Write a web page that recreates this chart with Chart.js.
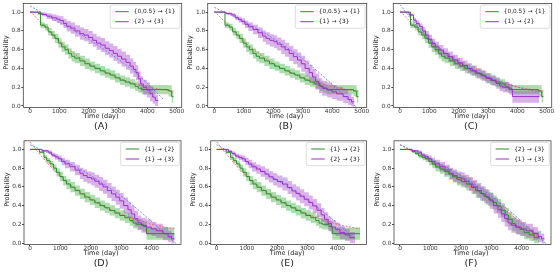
<!DOCTYPE html>
<html>
<head>
<meta charset="utf-8">
<script src="https://cdn.jsdelivr.net/npm/chart.js@4.4.0/dist/chart.umd.min.js"></script>
<style>
  body { margin: 0; background: #fff; }
  #wrap { position: relative; width: 560px; height: 274px; }
  #wrap canvas { position: absolute; left: 0; top: 0; }
</style>
</head>
<body>
<div id="wrap"></div>
<script>
// tick values
const ticksX5 = [0, 1000, 2000, 3000, 4000, 5000];
const ticksX4 = [0, 1000, 2000, 3000, 4000];
const ticksY = [0.0, 0.2, 0.4, 0.6, 0.8, 1.0];

// {0,0.5} -> {1}  (time, survival, ci half width)
const t051 = [0, 360, 510, 620, 740, 850, 970, 1080, 1190, 1310, 1420, 1530, 1700, 1870, 2040, 2210, 2390, 2560, 2730, 2900, 3070, 3240, 3410, 3580, 3690, 3810, 4720, 4830, 4890];
const s051 = [1.0, 0.86, 0.84, 0.79, 0.755, 0.72, 0.67, 0.63, 0.60, 0.56, 0.53, 0.51, 0.48, 0.45, 0.425, 0.40, 0.375, 0.35, 0.33, 0.30, 0.275, 0.255, 0.235, 0.21, 0.19, 0.175, 0.16, 0.10, 0.10];
const ci051 = [0, .03, .035, .04, .045, .05, .05, .055, .055, .055, .055, .055, .055, .055, .05, .05, .05, .05, .05, .05, .05, .05, .05, .05, .05, .05, .06, .065, .065];

// {1} -> {3}
const t13 = [0, 400, 600, 710, 820, 930, 1040, 1150, 1310, 1480, 1640, 1750, 1880, 2020, 2130, 2270, 2400, 2540, 2680, 2820, 2950, 3080, 3220, 3330, 3440, 3550, 3660, 3830, 3990, 4150, 4370, 4540, 4650, 4750];
const s13 = [1.0, 0.985, 0.97, 0.94, 0.92, 0.90, 0.87, 0.845, 0.815, 0.78, 0.745, 0.72, 0.70, 0.685, 0.66, 0.63, 0.60, 0.56, 0.525, 0.49, 0.45, 0.40, 0.355, 0.31, 0.26, 0.215, 0.19, 0.17, 0.15, 0.13, 0.10, 0.07, 0.045, 0.045];
const ci13 = [0, .012, .018, .025, .03, .035, .04, .045, .05, .055, .06, .065, .065, .07, .07, .075, .075, .08, .08, .08, .085, .085, .085, .085, .085, .08, .08, .08, .075, .075, .07, .06, .05, .05];

// {1} -> {2}
const t12 = [0, 310, 460, 550, 660, 770, 870, 980, 1090, 1200, 1330, 1480, 1640, 1800, 1970, 2130, 2300, 2460, 2620, 2790, 2950, 3120, 3280, 3390, 3500, 3720, 3830, 4750];
const s12 = [1.0, 0.97, 0.915, 0.88, 0.845, 0.80, 0.755, 0.71, 0.667, 0.63, 0.596, 0.56, 0.525, 0.49, 0.46, 0.43, 0.40, 0.376, 0.348, 0.32, 0.294, 0.27, 0.24, 0.213, 0.20, 0.177, 0.10, 0.10];
const ci12 = [0, .015, .025, .03, .035, .04, .045, .05, .05, .055, .055, .055, .055, .055, .055, .055, .055, .055, .055, .055, .055, .055, .055, .055, .055, .055, .065, .065];

// {2} -> {3}, panel A
const t23a = [0, 280, 400, 570, 740, 910, 1020, 1140, 1250, 1390, 1530, 1700, 1840, 1990, 2140, 2270, 2410, 2560, 2700, 2840, 2980, 3120, 3270, 3410, 3520, 3610, 3690, 3770, 3860, 3980, 4090, 4180, 4270, 4370];
const s23a = [1.0, 0.985, 0.975, 0.957, 0.94, 0.925, 0.91, 0.88, 0.85, 0.83, 0.80, 0.77, 0.755, 0.73, 0.70, 0.67, 0.65, 0.615, 0.59, 0.56, 0.53, 0.50, 0.465, 0.425, 0.39, 0.355, 0.29, 0.235, 0.20, 0.17, 0.13, 0.095, 0.06, 0.06];
const ci23a = [0, .015, .02, .03, .035, .04, .045, .05, .055, .06, .06, .065, .065, .07, .07, .07, .075, .075, .075, .08, .08, .08, .08, .08, .08, .08, .08, .08, .08, .08, .08, .07, .06, .06];

// {2} -> {3}, panels E and F
const t23 = [0, 390, 500, 610, 730, 840, 950, 1060, 1170, 1310, 1450, 1600, 1730, 1870, 2010, 2180, 2350, 2490, 2630, 2760, 2900, 3050, 3180, 3320, 3460, 3570, 3690, 3800, 3940, 4080, 4250, 4410, 4580];
const s23 = [1.0, 0.98, 0.957, 0.93, 0.914, 0.90, 0.87, 0.843, 0.814, 0.79, 0.764, 0.736, 0.707, 0.68, 0.657, 0.63, 0.593, 0.557, 0.53, 0.50, 0.468, 0.432, 0.396, 0.35, 0.30, 0.254, 0.207, 0.17, 0.146, 0.11, 0.086, 0.057, 0.057];
const ci23 = [0, .015, .02, .025, .03, .035, .04, .045, .05, .05, .055, .06, .06, .065, .065, .07, .07, .07, .075, .075, .075, .075, .075, .075, .075, .075, .075, .075, .07, .07, .065, .06, .06];

// fitted curves (dashed)
const fitT051 = [0, 500, 1000, 1500, 2000, 2500, 3000, 3500, 4000, 4500, 4890];
const fitS051 = [1.01, 0.85, 0.69, 0.56, 0.45, 0.37, 0.30, 0.245, 0.205, 0.175, 0.16];
const fitT13 = [0, 1000, 2000, 3000, 3500, 4000, 4500, 4850];
const fitS13 = [1.05, 0.90, 0.72, 0.50, 0.37, 0.23, 0.08, -0.02];
const fitT12 = [0, 500, 1000, 1500, 2000, 2500, 3000, 3500, 4000, 4500, 4750];
const fitS12 = [1.08, 0.88, 0.71, 0.58, 0.47, 0.38, 0.31, 0.25, 0.20, 0.165, 0.15];
const fitT23a = [0, 1000, 2000, 3000, 3500, 4000, 4550];
const fitS23a = [1.065, 0.89, 0.71, 0.50, 0.38, 0.24, 0.07];
const fitT23 = [0, 1000, 2000, 3000, 3500, 4000, 4600];
const fitS23 = [1.05, 0.87, 0.67, 0.46, 0.34, 0.21, 0.04];

const GREEN = '#2c8c2c', GREEN_BAND = 'rgba(50,170,50,0.4)';
const PURPLE = '#9a30c8', PURPLE_BAND = 'rgba(160,60,200,0.4)';
const RED_FIT = 'rgba(235,90,90,0.8)', BLUE_FIT = 'rgba(100,110,240,0.8)';
const FONT = 'DejaVu Sans';

const c051 = [t051, s051, ci051], c13 = [t13, s13, ci13], c12 = [t12, s12, ci12];
const c23a = [t23a, s23a, ci23a], c23 = [t23, s23, ci23];
const f051 = [fitT051, fitS051], f13 = [fitT13, fitS13], f12 = [fitT12, fitS12];
const f23a = [fitT23a, fitS23a], f23 = [fitT23, fitS23];

// panel layout (page pixels) and content
const panels = [
  { tag: '(A)', L: 23.3, R: 181.7, T: 3.5, B: 107.5, xMin: -228, xMax: 5170, xt: ticksX5,
    green: c051, purple: c23a, red: f051, blue: f23a, labels: ['{0,0.5} \u2192 {1}', '{2} \u2192 {3}'] },
  { tag: '(B)', L: 207.7, R: 366.7, T: 3.5, B: 107.5, xMin: -226, xMax: 5169, xt: ticksX5,
    green: c051, purple: c13, red: f051, blue: f13, labels: ['{0,0.5} \u2192 {1}', '{1} \u2192 {3}'] },
  { tag: '(C)', L: 393.3, R: 551.7, T: 3.5, B: 107.5, xMin: -228, xMax: 5170, xt: ticksX5,
    green: c051, purple: c12, red: f051, blue: f12, labels: ['{0,0.5} \u2192 {1}', '{1} \u2192 {2}'] },
  { tag: '(D)', L: 24, R: 181, T: 140.8, B: 244.5, xMin: -197, xMax: 4964, xt: ticksX4,
    green: c12, purple: c13, red: f12, blue: f13, labels: ['{1} \u2192 {2}', '{1} \u2192 {3}'] },
  { tag: '(E)', L: 210.7, R: 366.6, T: 140.8, B: 244.5, xMin: -198, xMax: 4965, xt: ticksX4,
    green: c12, purple: c23, red: f12, blue: f23, labels: ['{1} \u2192 {2}', '{2} \u2192 {3}'] },
  { tag: '(F)', L: 394, R: 551, T: 140.8, B: 244.5, xMin: -197, xMax: 4964, xt: ticksX4,
    green: c23, purple: c13, red: f23, blue: f13, labels: ['{2} \u2192 {3}', '{1} \u2192 {3}'] }
];

function pts(t, s) {
  return t.map((x, i) => ({ x: x, y: s[i] }));
}
function upper(c) {
  return c[0].map((x, i) => ({ x: x, y: Math.min(1, c[1][i] + c[2][i]) }));
}
function lower(c) {
  return c[0].map((x, i) => ({ x: x, y: c[1][i] - c[2][i] }));
}

function buildDatasets(p) {
  const base = { pointRadius: 0, borderWidth: 1 };
  const band = { stepped: 'before', borderColor: 'transparent', borderWidth: 0, pointRadius: 0 };
  return [
    Object.assign({ data: pts(p.purple[0], p.purple[1]), stepped: 'before', borderColor: PURPLE, fill: false, order: 0 }, base),
    Object.assign({ data: pts(p.green[0], p.green[1]), stepped: 'before', borderColor: GREEN, fill: false, order: 1 }, base),
    Object.assign({ data: pts(p.red[0], p.red[1]), borderColor: RED_FIT, borderDash: [2, 1.5], cubicInterpolationMode: 'monotone', fill: false, order: 2 }, base),
    Object.assign({ data: pts(p.blue[0], p.blue[1]), borderColor: BLUE_FIT, borderDash: [2, 1.5], cubicInterpolationMode: 'monotone', fill: false, order: 2 }, base),
    Object.assign({ data: upper(p.purple), backgroundColor: PURPLE_BAND, fill: '+1', order: 3 }, band),
    Object.assign({ data: lower(p.purple), fill: false, order: 3 }, band),
    Object.assign({ data: upper(p.green), backgroundColor: GREEN_BAND, fill: '+1', order: 4 }, band),
    Object.assign({ data: lower(p.green), fill: false, order: 4 }, band)
  ];
}

function decoPlugin(p) {
  return {
    id: 'deco',
    afterDraw(chart) {
      const ctx = chart.ctx, a = chart.chartArea;
      ctx.save();
      // frame
      ctx.strokeStyle = '#444';
      ctx.lineWidth = 0.8;
      ctx.strokeRect(a.left, a.top, a.right - a.left, a.bottom - a.top);

      // legend
      ctx.font = '5.8px "' + FONT + '"';
      const tw = Math.max(...p.labels.map(l => ctx.measureText(l).width));
      const w = tw + 28, h = 23.3;
      const x0 = a.right - 1.7 - w, y0 = a.top + 1.5;
      ctx.beginPath();
      ctx.roundRect(x0, y0, w, h, 2);
      ctx.fillStyle = 'rgba(255,255,255,0.85)';
      ctx.fill();
      ctx.strokeStyle = '#d4d4d4';
      ctx.lineWidth = 0.8;
      ctx.stroke();
      [GREEN, PURPLE].forEach((col, i) => {
        const y = y0 + 6.7 + i * 10;
        ctx.strokeStyle = col;
        ctx.lineWidth = 1;
        ctx.beginPath();
        ctx.moveTo(x0 + 5, y);
        ctx.lineTo(x0 + 18.5, y);
        ctx.stroke();
        ctx.fillStyle = '#222';
        ctx.textAlign = 'left';
        ctx.textBaseline = 'middle';
        ctx.fillText(p.labels[i], x0 + 23.5, y);
      });

      // axis titles and panel tag
      const cx = (a.left + a.right) / 2 - 1.5;
      ctx.fillStyle = '#222';
      ctx.textAlign = 'center';
      ctx.textBaseline = 'middle';
      ctx.font = '6.5px "' + FONT + '"';
      ctx.fillText('Time (day)', cx, a.bottom + 9.2);
      ctx.font = '9.5px "' + FONT + '"';
      ctx.fillText(p.tag, cx, a.bottom + 19.2);
      ctx.translate(a.left - 17.1, (a.top + a.bottom) / 2 - 3);
      ctx.rotate(-Math.PI / 2);
      ctx.font = '6.5px "' + FONT + '"';
      ctx.fillText('Probability', 0, 0);
      ctx.restore();
    }
  };
}

const wrap = document.getElementById('wrap');
panels.forEach(p => {
  const cv = document.createElement('canvas');
  cv.width = 560;
  cv.height = 274;
  wrap.appendChild(cv);

  const Wy = 21, Hx = 13;
  new Chart(cv, {
    type: 'line',
    data: { datasets: buildDatasets(p) },
    plugins: [decoPlugin(p)],
    options: {
      responsive: false,
      animation: false,
      devicePixelRatio: 1,
      events: [],
      layout: { padding: { left: p.L - Wy, right: 560 - p.R, top: p.T, bottom: 274 - p.B - Hx } },
      plugins: { legend: { display: false }, tooltip: { enabled: false }, title: { display: false } },
      scales: {
        x: {
          type: 'linear', min: p.xMin, max: p.xMax,
          afterBuildTicks: s => { s.ticks = p.xt.map(v => ({ value: v })); },
          afterFit: s => { s.height = Hx; s.paddingLeft = 0; s.paddingRight = 0; },
          grid: { drawOnChartArea: false, drawTicks: true, tickLength: 1.5, color: '#444' },
          border: { display: false },
          ticks: { autoSkip: false, maxRotation: 0, padding: -1.1, color: '#333',
                   font: { family: FONT, size: 5.8 }, callback: v => String(v) }
        },
        y: {
          min: -0.016, max: 1.092,
          afterBuildTicks: s => { s.ticks = ticksY.map(v => ({ value: v })); },
          afterFit: s => { s.width = Wy; s.paddingTop = 0; s.paddingBottom = 0; },
          grid: { drawOnChartArea: false, drawTicks: true, tickLength: 2, color: '#444' },
          border: { display: false },
          ticks: { padding: 0.6, color: '#333', font: { family: FONT, size: 5.8 },
                   callback: v => Number(v).toFixed(1) }
        }
      }
    }
  });
});
</script>
</body>
</html>
